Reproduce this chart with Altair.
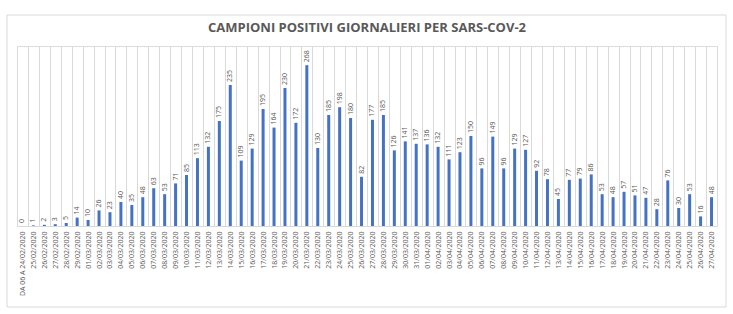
import altair as alt
import pandas as pd

dates = ["DA 06 A 24/02/2020"]
dates += [f"{d:02d}/02/2020" for d in range(25, 30)]
dates += [f"{d:02d}/03/2020" for d in range(1, 32)]
dates += [f"{d:02d}/04/2020" for d in range(1, 28)]

values = [0, 1, 2, 3, 5, 14, 10, 26, 23, 40, 35, 48, 63, 53, 71, 85, 113, 132, 175, 235,
          109, 129, 195, 164, 230, 172, 268, 130, 185, 198, 180, 82, 177, 185, 126, 141,
          137, 136, 132, 111, 123, 150, 96, 149, 96, 129, 127, 92, 78, 45, 77, 79, 86,
          53, 48, 57, 51, 47, 28, 76, 30, 53, 16, 48]

df = pd.DataFrame({"data": dates, "positivi": values})

TXT = "#595959"

x = alt.X("data:N", sort=None, title=None,
          scale=alt.Scale(paddingInner=0, paddingOuter=0),
          axis=alt.Axis(labelAngle=270, labelFontSize=7, labelColor=TXT,
                        labelFont="Open Sans", labelPadding=5, ticks=False,
                        grid=True, gridColor="#d9d9d9", gridWidth=1,
                        tickBand="extent", domainColor="#d9d9d9",
                        labelOverlap=False))
y = alt.Y("positivi:Q", title=None, scale=alt.Scale(domain=[0, 300]), axis=None)

base = alt.Chart(df)
bars = base.mark_bar(size=3, color="#4472C4").encode(x=x, y=y)
labels = base.mark_text(angle=270, align="left", baseline="middle", dx=3,
                        fontSize=7, color=TXT, font="Open Sans").encode(
    x=alt.X("data:N", sort=None), y="positivi:Q", text="positivi:Q")

frame = alt.Chart(pd.DataFrame({"k": [0]})).mark_rect(
    fill=None, stroke="#d9d9d9", strokeWidth=1).encode(
    x=alt.value(-10), x2=alt.value(709), y=alt.value(-31), y2=alt.value(261))

chart = alt.layer(bars, labels, frame).properties(
    width=700, height=180,
    title=alt.TitleParams("CAMPIONI POSITIVI GIORNALIERI PER SARS-COV-2",
                          fontSize=13, font="Open Sans", fontWeight="bold",
                          color=TXT, offset=-20, anchor="middle"),
    autosize=alt.AutoSizeParams(type="none"),
    padding={"left": 17, "top": 46, "right": 16, "bottom": 88},
).configure_view(stroke=None).configure(background="white")

chart.save("out.html", embed_options={"renderer": "svg", "actions": False})
